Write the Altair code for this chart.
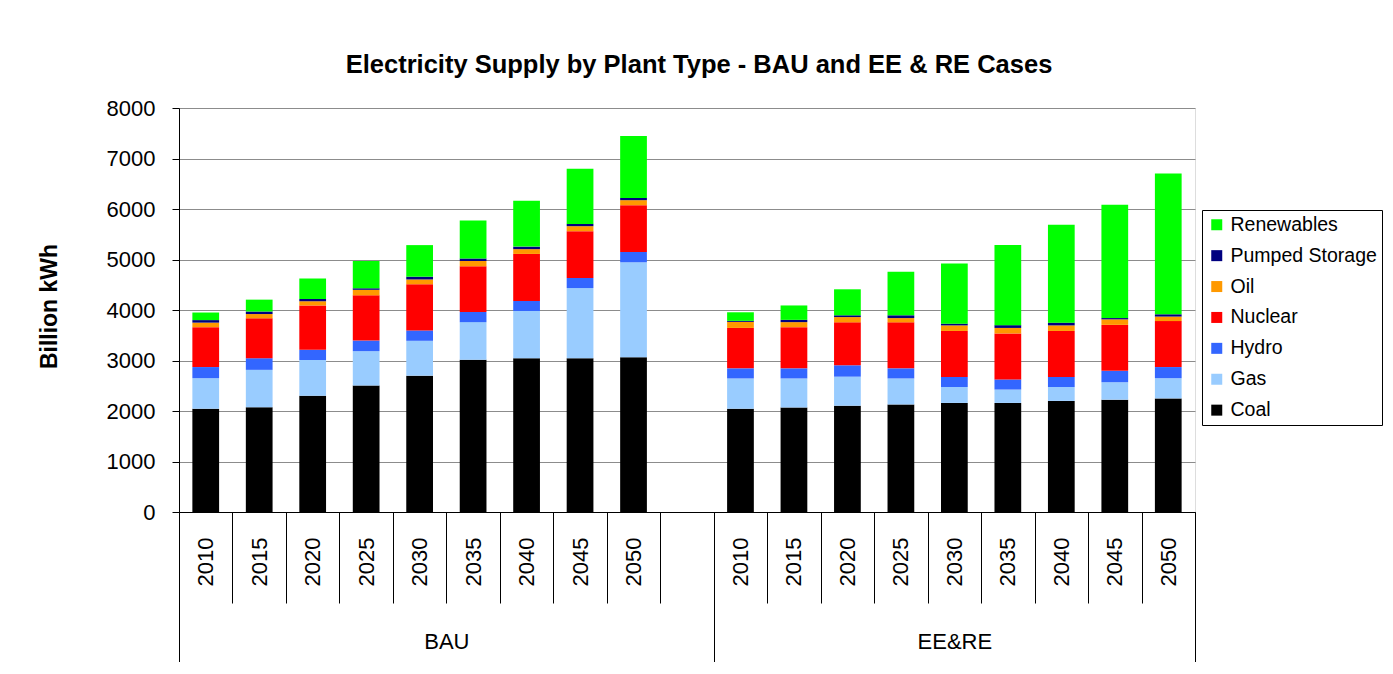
import altair as alt
import pandas as pd

years = ["2010", "2015", "2020", "2025", "2030", "2035", "2040", "2045", "2050"]
scenarios = ["BAU", "EE&RE"]

# legend order (top -> bottom); stacking is the reverse (Coal at the bottom)
sources = ["Renewables", "Pumped Storage", "Oil", "Nuclear", "Hydro", "Gas", "Coal"]
colors = ["#00FF00", "#000080", "#FF9900", "#FF0000", "#3366FF", "#99CCFF", "#000000"]

# BAU case (billion kWh)
bau_coal = [2045, 2075, 2300, 2505, 2700, 3015, 3045, 3045, 3065]
bau_gas = [605, 740, 710, 680, 690, 745, 935, 1390, 1880]
bau_hydro = [220, 230, 205, 210, 205, 200, 200, 200, 205]
bau_nuclear = [790, 790, 875, 895, 915, 905, 930, 925, 925]
bau_oil = [90, 85, 85, 110, 95, 105, 95, 100, 100]
bau_pumped = [50, 50, 45, 30, 55, 50, 50, 45, 45]
bau_renew = [150, 235, 405, 540, 625, 750, 910, 1090, 1225]

# EE&RE case (billion kWh)
ee_coal = [2045, 2070, 2105, 2130, 2160, 2160, 2200, 2225, 2250]
ee_gas = [600, 575, 575, 515, 315, 265, 275, 345, 400]
ee_hydro = [200, 200, 225, 200, 200, 200, 200, 225, 220]
ee_nuclear = [800, 815, 850, 910, 910, 910, 910, 910, 910]
ee_oil = [120, 100, 105, 85, 110, 110, 110, 110, 90]
ee_pumped = [20, 45, 35, 55, 35, 55, 55, 25, 45]
ee_renew = [170, 285, 515, 860, 1190, 1585, 1940, 2245, 2790]

y_ticks = [0, 1000, 2000, 3000, 4000, 5000, 6000, 7000, 8000]

series = {
    "BAU": {"Coal": bau_coal, "Gas": bau_gas, "Hydro": bau_hydro, "Nuclear": bau_nuclear,
            "Oil": bau_oil, "Pumped Storage": bau_pumped, "Renewables": bau_renew},
    "EE&RE": {"Coal": ee_coal, "Gas": ee_gas, "Hydro": ee_hydro, "Nuclear": ee_nuclear,
              "Oil": ee_oil, "Pumped Storage": ee_pumped, "Renewables": ee_renew},
}

# category slots: BAU years + one empty slot, then EE&RE years
bau_slots = [f"BAU|{y}" for y in years] + ["BAU|"]
ee_slots = [f"EE&RE|{y}" for y in years]
slot_domain = bau_slots + ee_slots

stack_order = list(reversed(sources))  # Coal first (bottom)
rows = []
for scen in scenarios:
    for i, yr in enumerate(years):
        for src in stack_order:
            rows.append({"slot": f"{scen}|{yr}", "source": src,
                         "value": series[scen][src][i], "order": stack_order.index(src)})
df = pd.DataFrame(rows)

# group boundaries on a 0..N slot scale
n_slots = len(slot_domain)
bounds = [0, len(bau_slots), n_slots]
centers = [(bounds[0] + bounds[1]) / 2, (bounds[1] + bounds[2]) / 2]
gdf = pd.DataFrame({"pos": bounds})

label_expr = " : ".join(f"datum.value == {c} ? '{g}'" for c, g in zip(centers, scenarios)) + " : ''"
center_test = " || ".join(f"datum.value == {c}" for c in centers)

FONT = "Liberation Sans"

bars = alt.Chart(df).mark_bar(width=alt.RelativeBandSize(0.5)).encode(
    x=alt.X("slot:N", scale=alt.Scale(domain=slot_domain, paddingInner=0, paddingOuter=0),
            axis=alt.Axis(orient="bottom", tickBand="extent", tickSize=91, tickColor="black",
                          tickWidth=1, domainColor="black", labelAngle=-90, labelPadding=-66,
                          labelAlign="right", labelBaseline="middle",
                          labelExpr="split(datum.value, '|')[1]", labelFontSize=22,
                          labelColor="black", labelFont=FONT, title=None, grid=False)),
    y=alt.Y("value:Q", stack="zero", scale=alt.Scale(domain=[0, 8000], nice=False),
            axis=alt.Axis(values=y_ticks, format="d", title="Billion kWh", titleFontSize=23,
                          titleFontWeight="bold", titleFont=FONT, titleColor="black",
                          titleX=-130, titleY=198, titleAlign="center", titleBaseline="middle",
                          titleAngle=270,
                          labelFontSize=22, labelFont=FONT, labelColor="black", labelPadding=17,
                          tickSize=7, tickColor="black", domainColor="black",
                          gridColor="#8c8c8c", gridWidth=1.2)),
    color=alt.Color("source:N", scale=alt.Scale(domain=sources, range=colors),
                    legend=alt.Legend(orient="none", legendX=1023, legendY=102, title=None,
                                      symbolType="square", symbolSize=121, symbolStrokeWidth=0,
                                      labelFontSize=19.5, labelFont=FONT, labelColor="black",
                                      labelOffset=4, rowPadding=9.9, padding=5,
                                      strokeColor="black", fillColor="white")),
    order=alt.Order("order:Q", sort="ascending"),
)

groups = alt.Chart(gdf).mark_tick(opacity=0).encode(
    x=alt.X("pos:Q", scale=alt.Scale(domain=[0, n_slots], nice=False, zero=False),
            axis=alt.Axis(orient="bottom", values=bounds + centers, tickSize=153,
                          tickColor="black", tickWidth=1,
                          tickOpacity={"condition": {"test": center_test, "value": 0}, "value": 1},
                          labelExpr=label_expr, labelPadding=-34, labelAngle=0,
                          labelAlign="center", labelBaseline="top",
                          labelFontSize=22, labelFont=FONT, labelColor="black",
                          labelFlush=False, labelOverlap=False, labelBound=False,
                          domain=False, grid=False, title=None)),
)

chart = alt.layer(bars, groups).resolve_scale(x="independent").properties(
    width=1016,
    height=404,
    autosize=alt.AutoSizeParams(type="none"),
    padding={"left": 171, "top": 100, "right": 190, "bottom": 150},
    title=alt.TitleParams("Electricity Supply by Plant Type - BAU and EE & RE Cases",
                          fontSize=25.5, fontWeight="bold", font=FONT, color="black",
                          anchor="middle", dx=12, offset=19),
).configure_view(
    fill="#FFFFCC", stroke="#8c8c8c", strokeWidth=1.2
).configure(background="white", font=FONT)

chart.save("out.html", embed_options={"renderer": "svg", "actions": False})
